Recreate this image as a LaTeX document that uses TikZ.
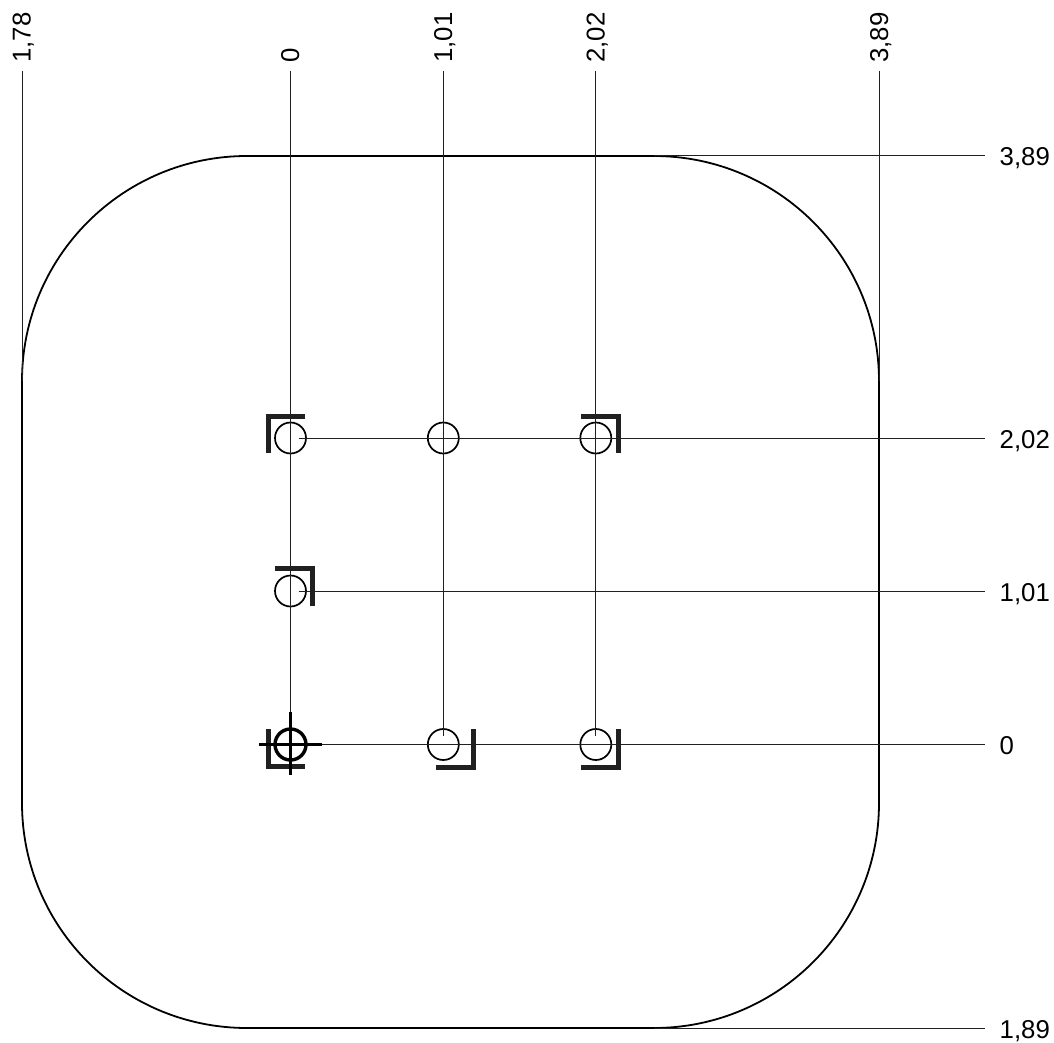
\documentclass[tikz,border=0pt]{standalone}
\usepackage{fontspec}
\setmainfont{Liberation Sans}
\definecolor{ink}{HTML}{202020}
\tikzset{
  leader/.style={draw=ink,line width=1pt},
  outline/.style={draw=black,line width=1.8pt},
  hole/.style={draw=black,circle,line width=1.7pt,minimum size=31pt,inner sep=0pt,outer sep=0pt},
  origin/.style={draw=black,circle,line width=3.4pt,minimum size=31pt,inner sep=0pt,outer sep=0pt},
  bracket/.style={draw=ink,line width=5pt,line cap=butt,line join=miter},
  cross/.style={draw=black,line width=3.6pt},
  vlabel/.style={rotate=90,anchor=base west,inner sep=0pt,font=\fontsize{25.8}{28}\selectfont},
  hlabel/.style={anchor=base west,inner sep=0pt,font=\fontsize{25.8}{28}\selectfont},
}
\begin{document}
\begin{tikzpicture}[x=1pt,y=-1pt]
\useasboundingbox (0,0) rectangle (1054,1043);
% outline
\draw[outline,rounded corners=225pt] (22,156) rectangle (879,1028);
% labels
\node[vlabel] (t1) at (30.5,63) {1,78};
\node[vlabel] (t2) at (299,63) {0};
\node[vlabel] (t3) at (452,63) {1,01};
\node[vlabel] (t4) at (604.5,63) {2,02};
\node[vlabel] (t5) at (888,63) {3,89};
\node[hlabel] (r1) at (999.5,166) {3,89};
\node[hlabel] (r2) at (999.5,448) {2,02};
\node[hlabel] (r3) at (999.5,601) {1,01};
\node[hlabel] (r4) at (999.5,754) {0};
\node[hlabel] (r5) at (999.5,1038) {1,89};
% anchors of the leaders
\foreach \n/\x in {a/22,b/290.5,c/443.3,d/595.8,e/879} \coordinate (top-\n) at (\x,71);
\foreach \n/\y in {p/156,q/438,s/591,u/744.5,v/1028} \coordinate (end-\n) at (985,\y);
\coordinate (foot-a) at (22,381);
\coordinate (foot-e) at (879,381);
\coordinate (foot-p) at (654,156);
\coordinate (foot-v) at (654,1028);
% holes
\node[hole] (h1) at (290.5,438) {};
\node[hole] (h2) at (443.3,438) {};
\node[hole] (h3) at (595.8,438) {};
\node[hole] (h4) at (290.5,591) {};
\node[hole] (h6) at (443.3,744.5) {};
\node[hole] (h7) at (595.8,744.5) {};
\node[origin] (h5) at (290.5,744.5) {};
% leaders
\draw[leader] (top-a) -- (foot-a);
\draw[leader] (top-b) -- (h5.center);
\draw[leader] (top-c) -- ([yshift=9pt]h6.center);
\draw[leader] (top-d) -- ([yshift=9pt]h7.center);
\draw[leader] (top-e) -- (foot-e);
\draw[leader] (foot-p) -- (end-p);
\draw[leader] ([xshift=8pt]h1.center) -- (end-q);
\draw[leader] ([xshift=8pt]h4.center) -- (end-s);
\draw[leader] (h5.east) -- (end-u);
\draw[leader] (foot-v) -- (end-v);
% brackets
\draw[bracket] (268,453) -- (268,416) -- (305,416);
\draw[bracket] (581,416) -- (618.5,416) -- (618.5,453);
\draw[bracket] (275,568) -- (312.5,568) -- (312.5,606);
\draw[bracket] (473.5,729) -- (473.5,767) -- (436,767);
\draw[bracket] (618.5,729) -- (618.5,767) -- (581,767);
\draw[bracket] (268,729) -- (268,766) -- (305,766);
% origin cross
\draw[cross] (259,744.5) -- (322,744.5);
\draw[cross] (290.5,712) -- (290.5,775);
\end{tikzpicture}
\end{document}
